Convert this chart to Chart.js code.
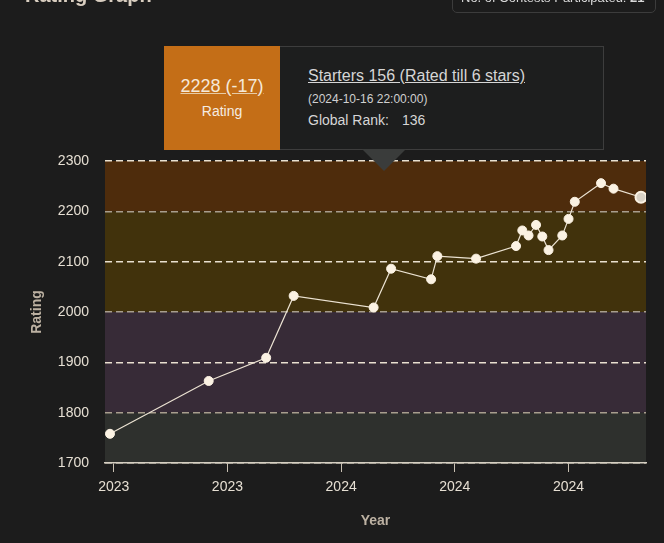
<!DOCTYPE html>
<html>
<head>
<meta charset="utf-8">
<script src="https://cdn.jsdelivr.net/npm/chart.js@4.4.0/dist/chart.umd.min.js"></script>
<style>
  html, body { margin: 0; padding: 0; background: #1c1c1c; overflow: hidden; }
  body { width: 664px; height: 543px; position: relative; font-family: "Liberation Sans", Arial, sans-serif; }
  #wrap { position: absolute; left: 0; top: 0; width: 664px; height: 543px; }
  .abs { position: absolute; line-height: 1; white-space: nowrap; }
  .head { left: 25px; top: -15px; font-size: 20px; font-weight: bold; color: #d9cec0; }
  .count { left: 452px; top: -20px; width: 202px; height: 31px; border: 1px solid #3c3c3c; border-radius: 5px; }
  .count-text { left: 461px; top: -9px; font-size: 13px; color: #d8d8d8; }
  .tip { left: 164px; top: 46px; width: 438px; height: 102px; border: 1px solid #3d3d3d; background: #1d1e1e; }
  .tip-rate { left: 164px; top: 46px; width: 116px; height: 104px; background: #c46e17; }
  .arrow { left: 362px; top: 149px; width: 0; height: 0; border-left: 22px solid transparent; border-right: 22px solid transparent; border-top: 22px solid #3a3c3b; }
  .big { left: 164px; width: 116px; text-align: center; top: 77px; font-size: 18px; color: #f5e9da; text-decoration: underline; text-decoration-color: #e6cba6; }
  .small { left: 164px; width: 116px; text-align: center; top: 104px; font-size: 14px; color: #f5ece2; }
  .name { left: 308px; top: 68px; font-size: 16px; color: #d6d6d6; text-decoration: underline; }
  .time { left: 308px; top: 93px; font-size: 12px; color: #d0d0d0; }
  .rank { left: 308px; top: 113px; font-size: 14px; color: #d6d6d6; }
  .rank-val { left: 402px; top: 113px; font-size: 14px; color: #d6d6d6; }
</style>
</head>
<body>
<div id="wrap"><canvas id="rating-chart"></canvas></div>
<div class="abs head">Rating Graph</div>
<div class="abs count"></div>
<div class="abs count-text" id="count-text"></div>
<div class="abs tip"></div>
<div class="abs tip-rate"></div>
<div class="abs arrow"></div>
<div class="abs big" id="tip-rating"></div>
<div class="abs small">Rating</div>
<div class="abs name" id="tip-name"></div>
<div class="abs time" id="tip-time"></div>
<div class="abs rank">Global Rank:</div>
<div class="abs rank-val" id="tip-rank"></div>
<script>
// contest dates and ratings
const contestDates = [
    "2023-08-18", "2023-11-05", "2023-12-21", "2024-01-12", "2024-03-16",
    "2024-03-30", "2024-05-01", "2024-05-06", "2024-06-06", "2024-07-08",
    "2024-07-13", "2024-07-18", "2024-07-24", "2024-07-29", "2024-08-03",
    "2024-08-14", "2024-08-19", "2024-08-24", "2024-09-14", "2024-09-24",
    "2024-10-16"
];
const ratings = [
    1758, 1863, 1909, 2032, 2009,
    2086, 2065, 2111, 2106, 2131,
    2162, 2152, 2173, 2150, 2123,
    2152, 2185, 2219, 2256, 2245,
    2228
];
const tickDates = ["2023-08-21", "2023-11-20", "2024-02-19", "2024-05-20", "2024-08-19"];
const tickLabels = ["2023", "2023", "2024", "2024", "2024"];
const axisStart = "2023-08-14";
const axisEnd = "2024-10-20";
const bandLimits = [1700, 1800, 2000, 2200, 2300];

const lastContest = "Starters 156 (Rated till 6 stars)";
const lastContestTime = "2024-10-16 22:00:00";
const lastGlobalRank = 136;

const bandColors = ["#2e302d", "#372b37", "#41320c", "#4e2c0c"];

function toDay(d) {
    return Date.parse(d) / 86400000;
}

const n = ratings.length;
const last = ratings[n - 1];
const delta = last - ratings[n - 2];
document.getElementById("tip-rating").textContent = last + " (" + (delta > 0 ? "+" : "") + delta + ")";
document.getElementById("tip-name").textContent = lastContest;
document.getElementById("tip-time").textContent = "(" + lastContestTime + ")";
document.getElementById("tip-rank").textContent = lastGlobalRank;
document.getElementById("count-text").innerHTML = "No. of Contests Participated: <b>" + n + "</b>";

const bandPlugin = {
    id: "bands",
    beforeDraw(chart) {
        const { ctx, chartArea, scales } = chart;
        ctx.save();
        for (let i = 0; i < bandLimits.length - 1; i++) {
            const top = scales.y.getPixelForValue(bandLimits[i + 1]);
            const bottom = scales.y.getPixelForValue(bandLimits[i]);
            ctx.fillStyle = bandColors[i];
            ctx.fillRect(chartArea.left, top, chartArea.right - chartArea.left, bottom - top);
        }
        ctx.restore();
    }
};

const ctx = document.getElementById("rating-chart").getContext("2d");
new Chart(ctx, {
    type: "line",
    data: {
        datasets: [{
            data: contestDates.map((d, i) => ({ x: toDay(d), y: ratings[i] })),
            borderColor: "#ece3d3",
            borderWidth: 1.2,
            pointBackgroundColor: c => c.dataIndex === n - 1 ? "#d9d2c6" : "#fbf2e3",
            pointBorderColor: "#fbf2e3",
            pointBorderWidth: c => c.dataIndex === n - 1 ? 2 : 1,
            pointRadius: c => c.dataIndex === n - 1 ? 5.5 : 4.5,
            tension: 0,
            fill: false
        }]
    },
    options: {
        responsive: true,
        maintainAspectRatio: false,
        animation: false,
        layout: { padding: { top: 161, right: 18, left: 25, bottom: 0 } },
        plugins: {
            legend: { display: false },
            tooltip: { enabled: false }
        },
        scales: {
            x: {
                type: "linear",
                min: toDay(axisStart),
                max: toDay(axisEnd),
                afterBuildTicks: axis => {
                    axis.ticks = tickDates.map(d => ({ value: toDay(d) }));
                },
                afterFit: axis => { axis.height = 80; },
                ticks: {
                    color: "#e6dfd3",
                    font: { size: 14, family: "'Liberation Sans', Arial" },
                    padding: 7,
                    maxRotation: 0,
                    callback: (v, i) => tickLabels[i]
                },
                grid: {
                    drawOnChartArea: false,
                    drawTicks: true,
                    tickLength: 9,
                    color: "#c8c0b2"
                },
                border: { display: true, color: "#d6cfc2", width: 1.5 },
                title: {
                    display: true,
                    text: "Year",
                    color: "#bcb1a2",
                    font: { size: 14, weight: "bold", family: "'Liberation Sans', Arial" },
                    padding: { top: 4, bottom: 13 }
                }
            },
            y: {
                min: 1700,
                max: 2300,
                afterFit: axis => { axis.width = 80; },
                ticks: {
                    stepSize: 100,
                    color: "#e6dfd3",
                    font: { size: 14, family: "'Liberation Sans', Arial" },
                    padding: 16,
                    callback: v => String(v)
                },
                grid: {
                    drawTicks: false,
                    lineWidth: 1.5,
                    color: c => bandLimits.slice(1, -1).includes(c.tick.value) ? "#a89e8e" : "#e9e0d0"
                },
                border: { display: false, dash: [7, 4] },
                title: {
                    display: true,
                    text: "Rating",
                    color: "#bcb1a2",
                    font: { size: 14, weight: "bold", family: "'Liberation Sans', Arial" },
                    padding: { top: 4, bottom: 4 }
                }
            }
        }
    },
    plugins: [bandPlugin]
});
</script>
</body>
</html>
